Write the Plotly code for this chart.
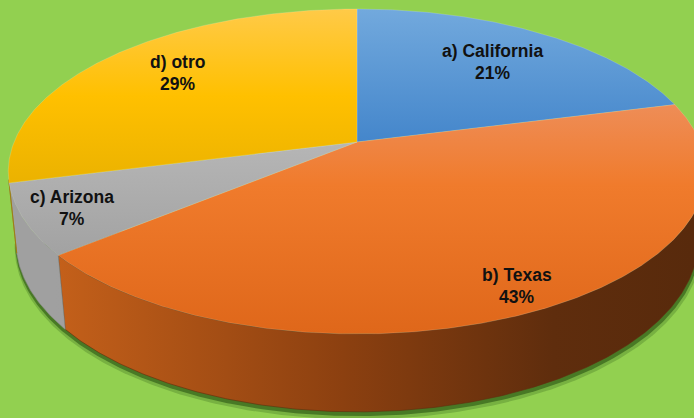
import numpy as np
import plotly.graph_objects as go

# ---- data ----
categories = ["a) California", "b) Texas", "c) Arizona", "d) otro"]
values = [21, 43, 7, 29]

# ---- styles ----
top_scales = [
    [[0, "#72A9DD"], [1, "#4486CB"]],
    [[0, "#EE8D57"], [0.35, "#F07B2C"], [1, "#DF671A"]],
    [[0, "#B6B6B6"], [1, "#A2A2A2"]],
    [[0, "#FFCA48"], [0.5, "#FFC000"], [1, "#EBB200"]],
]
wall_scales = [
    [[0, "#3F7FC0"], [1, "#2F5F90"]],
    [[0, "#C4601A"], [0.45, "#8C4010"], [0.78, "#5F2D0D"], [1, "#582A0C"]],
    [[0, "#A0A0A0"], [1, "#8C8C8C"]],
    [[0, "#C89600"], [1, "#A07800"]],
]
label_r = [0.71, 0.88, 0.865, 0.74]
label_dtheta = [0, 0, 0, 2]
BG = "#92D050"

# ---- 3D view (perspective camera) ----
W, Hpx = 694, 418
X0, Y0 = 357.0, 142.0
F, L = 1679.0, 4.896
SA = 0.4582
CA = np.sqrt(1 - SA ** 2)
THICK = 0.228


def project(X, Y, Z):
    depth = L - Y * SA - Z * CA
    up = Y * CA - Z * SA
    return X0 + F * X / depth, Y0 - F * up / depth


def rim(t0, t1, y=0.0, r=1.0, n=None):
    if n is None:
        n = max(int(abs(t1 - t0) * 2) + 2, 3)
    th = np.radians(np.linspace(t0, t1, n))
    X = r * np.sin(th)
    Z = -r * np.cos(th)
    return project(X, np.full_like(X, y), Z)


total = float(sum(values))
bounds = np.concatenate([[0], np.cumsum(values) / total * 360.0])

fig = go.Figure()

# shadow under the near edge
t_min = np.degrees(np.arccos(-1.0 / (L * CA)))
t_max = 360.0 - t_min
for dx, dy, rr, col in [(1, 6, 1.006, "rgba(40,85,20,0.25)"), (0.5, 3.5, 1.003, "rgba(35,75,15,0.55)")]:
    sx, sy = rim(t_min - 4, t_max + 4, y=-THICK, r=rr)
    cx, cy = project(0.0, -THICK, 0.0)
    xs = np.concatenate([sx + dx, [cx]])
    ys = np.concatenate([sy + dy, [cy]])
    fig.add_trace(go.Scatter(x=xs, y=ys, fill="toself", mode="lines",
                             line=dict(width=0), fillcolor=col,
                             hoverinfo="skip", showlegend=False))

# side walls
for i in range(len(values)):
    a, b = max(bounds[i], t_min), min(bounds[i + 1], t_max)
    if b <= a:
        continue
    tx, ty = rim(a, b, y=0.0)
    bx, by = rim(b, a, y=-THICK)
    xs = np.concatenate([tx, bx, tx[:1]])
    ys = np.concatenate([ty, by, ty[:1]])
    fig.add_trace(go.Scatter(
        x=xs, y=ys, fill="toself", mode="lines",
        line=dict(width=0.6, color=wall_scales[i][len(wall_scales[i]) // 2][1]),
        fillgradient=dict(type="horizontal", colorscale=wall_scales[i], start=55, stop=694),
        hoverinfo="skip", showlegend=False))

# top faces
for i in range(len(values)):
    rx, ry = rim(bounds[i], bounds[i + 1], y=0.0)
    xs = np.concatenate([[X0], rx, [X0]])
    ys = np.concatenate([[Y0], ry, [Y0]])
    fig.add_trace(go.Scatter(
        x=xs, y=ys, fill="toself", mode="lines",
        line=dict(width=0.6, color="rgba(255,255,255,0.25)"),
        fillgradient=dict(type="vertical", colorscale=top_scales[i],
                          start=float(ys.min()), stop=float(ys.max())),
        name=categories[i], hoverinfo="name", showlegend=False))

# labels
for i in range(len(values)):
    mid = (bounds[i] + bounds[i + 1]) / 2 + label_dtheta[i]
    lx, ly = rim(mid, mid, y=0.0, r=label_r[i], n=1)
    lx, ly = float(lx[0]), float(ly[0])
    pct = f"{round(values[i] / total * 100)}%"
    for txt, off in [(categories[i], -11), (pct, 11)]:
        fig.add_annotation(x=lx, y=ly + off, text=txt, showarrow=False,
                           xanchor="center", yanchor="middle",
                           font=dict(family="Liberation Sans, Arial", size=17.5,
                                     color="#111111", weight="bold"))

fig.update_layout(
    width=W, height=Hpx, autosize=False,
    margin=dict(l=0, r=0, t=0, b=0),
    paper_bgcolor=BG, plot_bgcolor=BG,
    xaxis=dict(range=[0, W], visible=False, fixedrange=True),
    yaxis=dict(range=[Hpx, 0], visible=False, fixedrange=True),
    showlegend=False,
)

fig.write_html("out.html",
               config=dict(displayModeBar=False, staticPlot=False),
               post_script="document.body.style.margin='0';document.body.style.background='" + BG + "';")
